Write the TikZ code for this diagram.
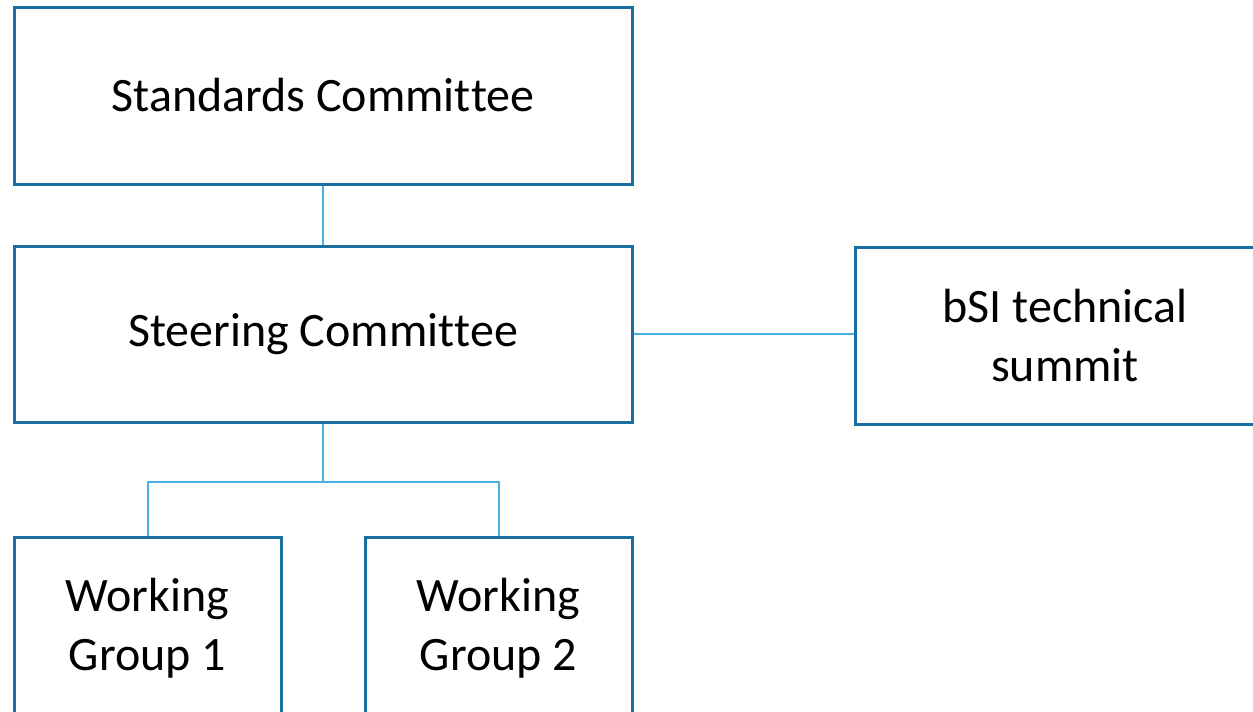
\documentclass[tikz,border=0pt]{standalone}
\usepackage{fontspec}
\setmainfont{Carlito}[Ligatures=NoCommon]
\definecolor{boxline}{HTML}{1B6FA0}
\definecolor{conn}{HTML}{4AB0E4}
\begin{document}
\begin{tikzpicture}[x=0.5pt,y=-0.5pt,
  orgbox/.style={draw=boxline, line width=1.5pt, fill=white, inner sep=0pt, align=center,
    font=\fontsize{24}{29.5}\selectfont, text=black},
  link/.style={draw=conn, line width=1pt}]
\clip (0,0) rectangle (1253,712);
\fill[white] (0,0) rectangle (1253,712);
\node[orgbox, minimum width=309pt, minimum height=88.5pt] (std) at (323,95.5) {Standards Commit\kern0pt tee};
\node[orgbox, minimum width=309pt, minimum height=88pt] (steer) at (323,334) {\raisebox{-1pt}{Steering Commit\kern0pt tee}};
\node[orgbox, minimum width=210pt, minimum height=88.5pt] (bsi) at (1065,335.5) {bSI technical\\summit};
\node[orgbox, minimum width=133.5pt, minimum height=91pt] (wg1) at (147.5,628) {Working\\Group 1};
\node[orgbox, minimum width=133.5pt, minimum height=91pt] (wg2) at (498.5,628) {Working\\Group 2};
\draw[link] (std.south) -- (steer.north);
\draw[link] (steer.east) -- (steer.east -| bsi.west);
\draw[link] (steer.south) -- ++(0,58) coordinate (j);
\draw[link] (j) -| (wg1.north);
\draw[link] (j) -| (wg2.north);
\end{tikzpicture}
\end{document}
